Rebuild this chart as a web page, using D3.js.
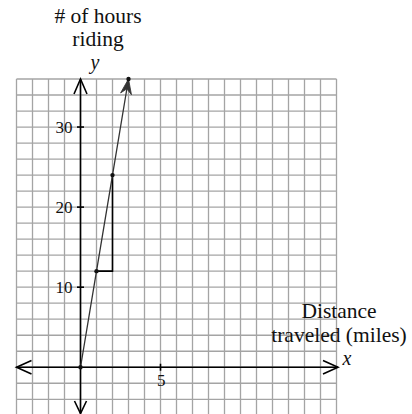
<!DOCTYPE html>
<html>
<head>
<meta charset="utf-8">
<script src="https://cdn.jsdelivr.net/npm/d3@7"></script>
<style>
  html, body { margin: 0; padding: 0; background: #fff; }
  svg { display: block; }
</style>
</head>
<body>
<svg id="chart" width="412" height="414"></svg>
<script>
// ---- data ----
const xDomain = [-4, 16];
const yDomain = [-6, 36];
const xGridValues = d3.range(-4, 17, 1);
const yGridValues = d3.range(-6, 37, 2);
const xTicks = [5];
const yTicks = [10, 20, 30];
const pointsX = [0, 1, 2, 3];
const pointsY = [0, 12, 24, 36];
const slopeRun = [1, 2];      // x from 1 to 2
const slopeRise = [12, 24];   // y from 12 to 24
const yTitleLines = ["# of hours", "riding"];
const xTitleLines = ["Distance", "traveled (miles)"];

const FONT = "'Liberation Serif', 'Times New Roman', Times, serif";

// ---- scales ----
const x = d3.scaleLinear().domain(xDomain).range([16.5, 336.5]);
const y = d3.scaleLinear().domain(yDomain).range([415.3, 79]);

const svg = d3.select("#chart");

// grid
const grid = svg.append("g").attr("stroke", "#a4a4a4").attr("stroke-width", 1.3);
grid.selectAll("line.gv").data(xGridValues).join("line").attr("class", "gv")
  .attr("x1", d => x(d)).attr("x2", d => x(d))
  .attr("y1", y(36)).attr("y2", 414);
grid.selectAll("line.gh").data(yGridValues).join("line").attr("class", "gh")
  .attr("y1", d => y(d)).attr("y2", d => y(d))
  .attr("x1", x(-4)).attr("x2", x(16));

// axes
const axes = svg.append("g").attr("stroke", "#000").attr("stroke-width", 1.6).attr("fill", "none");
const x0 = x(0), y0 = y(0);
axes.append("line").attr("x1", x(-4)).attr("x2", x(16) + 1.5).attr("y1", y0).attr("y2", y0);
axes.append("line").attr("x1", x0).attr("x2", x0).attr("y1", y(36)).attr("y2", 413.5);
const aL = 15, aW = 6.7;
axes.append("path").attr("d", `M${x(-4)+aL},${y0-aW} L${x(-4)},${y0} L${x(-4)+aL},${y0+aW}`);
axes.append("path").attr("d", `M${x(16)+1.5-aL},${y0-aW} L${x(16)+1.5},${y0} L${x(16)+1.5-aL},${y0+aW}`);
axes.append("path").attr("d", `M${x0-6.5},${y(36)+15} L${x0},${y(36)} L${x0+6.5},${y(36)+15}`);
axes.append("path").attr("d", `M${x0-6},${413.5-12.5} L${x0},${413.5} L${x0+6},${413.5-12.5}`);

// ticks
axes.selectAll("line.ytk").data(yTicks).join("line").attr("class", "ytk")
  .attr("x1", x0 - 3.5).attr("x2", x0 + 3.5)
  .attr("y1", d => y(d)).attr("y2", d => y(d));
axes.selectAll("line.xtk").data(xTicks).join("line").attr("class", "xtk")
  .attr("x1", d => x(d)).attr("x2", d => x(d))
  .attr("y1", y0 - 3.5).attr("y2", y0 + 3.5);

// tick labels
svg.selectAll("text.yl").data(yTicks).join("text").attr("class", "yl")
  .attr("x", x0 - 8).attr("y", d => y(d) + 5.5)
  .attr("text-anchor", "end").attr("font-family", FONT).attr("font-size", 17).attr("fill", "#111")
  .text(d => d);
svg.selectAll("text.xl").data(xTicks).join("text").attr("class", "xl")
  .attr("x", d => x(d) + 0.8).attr("y", y0 + 18.5)
  .attr("text-anchor", "middle").attr("font-family", FONT).attr("font-size", 17).attr("fill", "#111")
  .text(d => d);

// slope triangle
svg.append("path")
  .attr("d", `M${x(slopeRun[0])},${y(slopeRise[0])} L${x(slopeRun[1])},${y(slopeRise[0])} L${x(slopeRun[1])},${y(slopeRise[1])}`)
  .attr("fill", "none").attr("stroke", "#000").attr("stroke-width", 1.6);

// data line
const n = pointsX.length;
const line = d3.line().x((d, i) => x(pointsX[i])).y((d, i) => y(pointsY[i]));
svg.append("path").datum(pointsX).attr("d", line)
  .attr("fill", "none").attr("stroke", "#333").attr("stroke-width", 1.3);

// arrowhead on data line
const tx = x(pointsX[n - 1]), ty = y(pointsY[n - 1]);
const ang = Math.atan2(ty - y(pointsY[0]), tx - x(pointsX[0])) * 180 / Math.PI;
svg.append("path")
  .attr("d", "M0,0 L-15,-5.5 L-10,0 L-15,5.5 Z")
  .attr("transform", `translate(${tx},${ty}) rotate(${ang})`)
  .attr("fill", "#333").attr("stroke", "#333").attr("stroke-width", 0.8).attr("stroke-linejoin", "round");

// dots
svg.selectAll("circle.pt").data(pointsX).join("circle").attr("class", "pt")
  .attr("cx", (d, i) => x(pointsX[i])).attr("cy", (d, i) => y(pointsY[i]))
  .attr("r", 2.2).attr("fill", "#111");

// titles
svg.selectAll("text.ytl").data(yTitleLines).join("text").attr("class", "ytl")
  .attr("x", 98).attr("y", (d, i) => 23 + i * 22.5)
  .attr("text-anchor", "middle").attr("font-family", FONT).attr("font-size", 21.5).attr("fill", "#111")
  .text(d => d);
svg.append("text").attr("x", 95).attr("y", 68.5).attr("text-anchor", "middle")
  .attr("font-family", FONT).attr("font-size", 20).attr("font-style", "italic").attr("fill", "#111")
  .text("y");

svg.selectAll("text.xtl").data(xTitleLines).join("text").attr("class", "xtl")
  .attr("x", 339).attr("y", (d, i) => 318 + i * 24)
  .attr("text-anchor", "middle").attr("font-family", FONT).attr("font-size", 21.5).attr("fill", "#111")
  .text(d => d);
svg.append("text").attr("x", 347).attr("y", 365).attr("text-anchor", "middle")
  .attr("font-family", FONT).attr("font-size", 20).attr("font-style", "italic").attr("fill", "#111")
  .text("x");
</script>
</body>
</html>
